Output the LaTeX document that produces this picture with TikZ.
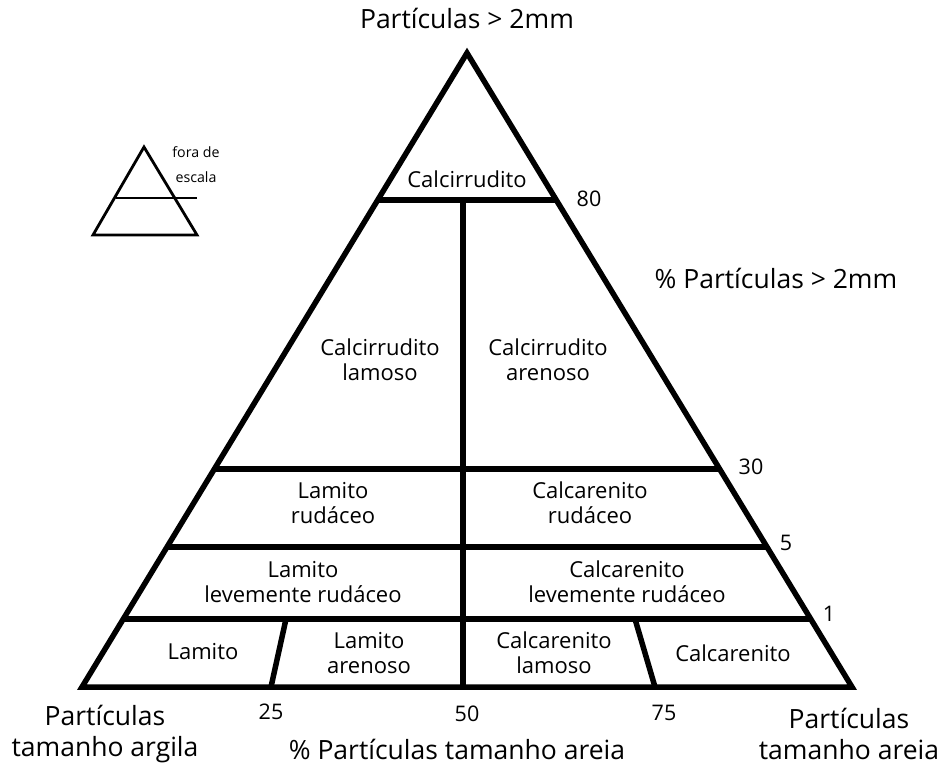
\documentclass[tikz,border=0pt]{standalone}
\usepackage{fontspec}
\setmainfont{Open Sans}
\usetikzlibrary{calc}

\tikzset{
  rotulo/.style={align=center,font=\fontsize{22}{25}\selectfont},
  escala/.style={font=\fontsize{21.5}{24}\selectfont},
  eixo/.style={align=center,font=\fontsize{26.5}{31}\selectfont},
  nota/.style={align=center,font=\fontsize{14.2}{25}\selectfont},
  grossa/.style={line width=5.5pt},
  fina/.style={line width=2.8pt},
}

\begin{document}
\begin{tikzpicture}[x=1pt,y=-1pt]
\useasboundingbox (0,0) rectangle (943,767);
% vertices of the triangle
\coordinate (topo) at (467,53);
\coordinate (esq) at (82,687);
\coordinate (dir) at (852,687);
% limits 80, 30, 5 and 1
\coordinate (e80) at ($(topo)!0.2319!(esq)$);
\coordinate (d80) at ($(topo)!0.2319!(dir)$);
\coordinate (e30) at ($(topo)!0.6562!(esq)$);
\coordinate (d30) at ($(topo)!0.6562!(dir)$);
\coordinate (e5) at ($(topo)!0.7792!(esq)$);
\coordinate (d5) at ($(topo)!0.7792!(dir)$);
\coordinate (e1) at ($(topo)!0.8927!(esq)$);
\coordinate (d1) at ($(topo)!0.8927!(dir)$);
\coordinate (meio80) at (463,200);
\coordinate (meio0) at (463,687);
\coordinate (c25a) at (286,619);
\coordinate (c25b) at (271,687);
\coordinate (c75a) at (635,619);
\coordinate (c75b) at (655,687);

\draw[grossa] (topo) -- (esq) -- (dir) -- cycle;
\draw[grossa] (e80) -- (d80);
\draw[grossa] (e30) -- (d30);
\draw[grossa] (e5) -- (d5);
\draw[grossa] (e1) -- (d1);
\draw[grossa] (meio80) -- (meio0);
\draw[grossa] (c25a) -- (c25b);
\draw[grossa] (c75a) -- (c75b);

% small triangle, not to scale
\draw[fina] (144,147) -- (93,235) -- (197,235) -- cycle;
\draw[fina] (116,198) -- (197,198);
\node[nota] (fora) at (196,165) {fora de\\escala};

% classes
\node[rotulo] (calc) at (467,179) {Calcirrudito};
\node[rotulo] (calclam) at (380,360) {Calcirrudito\\lamoso};
\node[rotulo] (calcare) at (548,360) {Calcirrudito\\arenoso};
\node[rotulo] (lamrud) at (333,503) {Lamito\\rudáceo};
\node[rotulo] (carrud) at (590,503) {Calcarenito\\rudáceo};
\node[rotulo] (lamlev) at (303,582) {Lamito\\levemente rudáceo};
\node[rotulo] (carlev) at (627,582) {Calcarenito\\levemente rudáceo};
\node[rotulo] (lamito) at (203,652) {Lamito};
\node[rotulo] (lamare) at (369,653) {Lamito\\arenoso};
\node[rotulo] (carlam) at (554,653) {Calcarenito\\lamoso};
\node[rotulo] (carenito) at (733,653) {Calcarenito};

% scale values
\node[escala] (v80) at (589,199) {80};
\node[escala] (v30) at (751,467) {30};
\node[escala] (v5) at (786,543) {5};
\node[escala] (v1) at (829,614) {1};
\node[escala] (v25) at (271,712) {25};
\node[escala] (v50) at (467,714) {50};
\node[escala] (v75) at (664,713) {75};

% axes
\node[eixo] (cima) at (467,18) {Partículas > 2mm};
\node[eixo] (pgros) at (776,278) {\% Partículas > 2mm};
\node[eixo] (argila) at (105,734) {Partículas\\tamanho argila};
\node[eixo] (areia) at (849,734) {Partículas\\tamanho areia};
\node[eixo] (pareia) at (457,749) {\% Partículas tamanho areia};
\end{tikzpicture}
\end{document}
